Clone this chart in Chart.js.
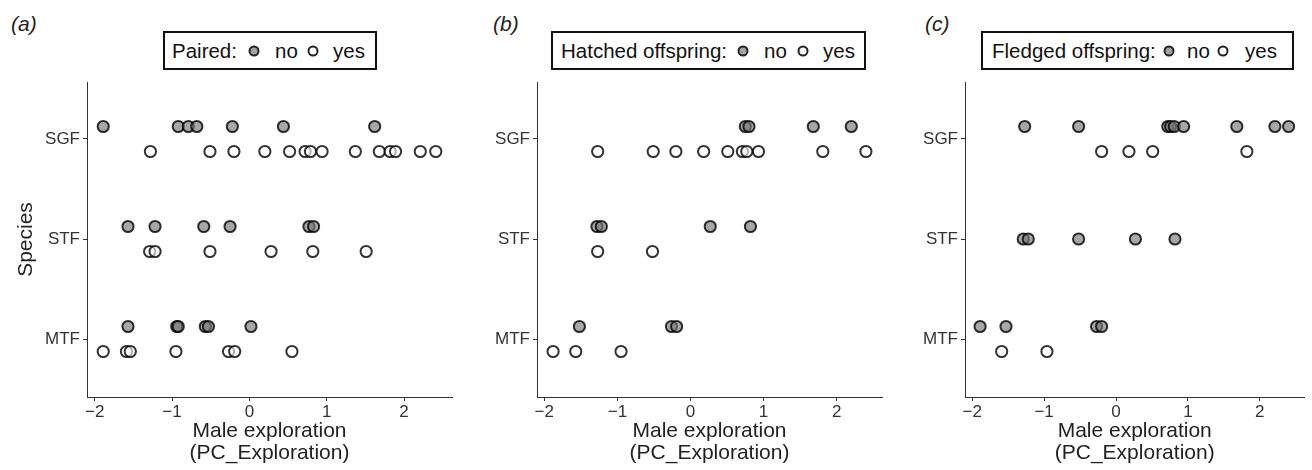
<!DOCTYPE html>
<html>
<head>
<meta charset="utf-8">
<script src="https://cdn.jsdelivr.net/npm/chart.js@4.4.1/dist/chart.umd.min.js"></script>
<style>
  body { margin: 0; background: #fff; width: 1312px; height: 470px; position: relative; overflow: hidden;
         font-family: "Liberation Sans", Arial, sans-serif; }
  canvas { position: absolute; top: 0; }
  .tag { position: absolute; top: 11px; font-size: 21px; font-style: italic; color: #222; line-height: 1.2; }
  .legend { position: absolute; top: 31px; height: 39px; box-sizing: border-box; border: 2px solid #111;
            font-size: 20.5px; color: #111; }
  .legend span { position: absolute; top: 50%; transform: translateY(-50%); white-space: nowrap; }
  .legend span.dot { width: 11px; height: 11px; border-radius: 50%; border: 2px solid #222; box-sizing: border-box;
                     transform: translate(-50%, -50%); }
</style>
</head>
<body>
<div class="tag" style="left:11px">(a)</div>
<div class="tag" style="left:493px">(b)</div>
<div class="tag" style="left:925px">(c)</div>

<div class="legend" style="left:163px;width:214px">
  <span style="left:7px">Paired:</span>
  <span class="dot" style="left:89px;background:#a3a3a3"></span>
  <span style="left:110px">no</span>
  <span class="dot" style="left:148px;background:#fff"></span>
  <span style="left:168px">yes</span>
</div>
<div class="legend" style="left:551px;width:315px">
  <span style="left:8px">Hatched offspring:</span>
  <span class="dot" style="left:190px;background:#a3a3a3"></span>
  <span style="left:211px">no</span>
  <span class="dot" style="left:250px;background:#fff"></span>
  <span style="left:270px">yes</span>
</div>
<div class="legend" style="left:981px;width:313px">
  <span style="left:9px">Fledged offspring:</span>
  <span class="dot" style="left:186px;background:#a3a3a3"></span>
  <span style="left:204px">no</span>
  <span class="dot" style="left:240px;background:#fff"></span>
  <span style="left:262px">yes</span>
</div>

<canvas id="panelA" width="460" height="470" style="left:0px"></canvas>
<canvas id="panelB" width="420" height="470" style="left:470px"></canvas>
<canvas id="panelC" width="412" height="470" style="left:900px"></canvas>

<script>
const species = ['MTF', 'STF', 'SGF'];
const xTicks = [-2, -1, 0, 1, 2];

// (a) Paired
const pairedNoSGF  = [-1.89, -0.92, -0.79, -0.68, -0.22, 0.44, 1.62];
const pairedYesSGF = [-1.28, -0.51, -0.20, 0.20, 0.52, 0.72, 0.79, 0.94, 1.37, 1.68, 1.82, 1.89, 2.21, 2.41];
const pairedNoSTF  = [-1.57, -1.22, -0.59, -0.25, 0.77, 0.83];
const pairedYesSTF = [-1.29, -1.22, -0.51, 0.28, 0.82, 1.51];
const pairedNoMTF  = [-1.57, -0.94, -0.92, -0.57, -0.53, 0.02];
const pairedYesMTF = [-1.89, -1.59, -1.54, -0.95, -0.27, -0.19, 0.55];

// (b) Hatched offspring
const hatchedNoSGF  = [0.75, 0.80, 1.68, 2.20];
const hatchedYesSGF = [-1.27, -0.51, -0.20, 0.18, 0.51, 0.71, 0.77, 0.93, 1.81, 2.40];
const hatchedNoSTF  = [-1.28, -1.22, 0.27, 0.82];
const hatchedYesSTF = [-1.27, -0.52];
const hatchedNoMTF  = [-1.52, -0.26, -0.19];
const hatchedYesMTF = [-1.88, -1.57, -0.95];

// (c) Fledged offspring
const fledgedNoSGF  = [-1.27, -0.52, 0.72, 0.76, 0.81, 0.94, 1.68, 2.21, 2.40];
const fledgedYesSGF = [-0.20, 0.18, 0.51, 1.82];
const fledgedNoSTF  = [-1.29, -1.22, -0.52, 0.27, 0.82];
const fledgedYesSTF = [];
const fledgedNoMTF  = [-1.89, -1.53, -0.27, -0.20];
const fledgedYesMTF = [-1.59, -0.96];

const DODGE = 0.125;
const FONT = '"Liberation Sans", Arial, sans-serif';

// rows: [MTF, STF, SGF], each {no, yes}
function buildPoints(rows, group) {
    const pts = [];
    rows.forEach((row, i) => {
        const both = row.no.length && row.yes.length;
        const off = both ? (group === 'no' ? DODGE : -DODGE) : 0;
        row[group].forEach(x => pts.push({x: x, y: i + 1 + off}));
    });
    return pts;
}

function makePanel(id, rows, yAxisWidth, padRight, showYTitle) {
    return new Chart(document.getElementById(id), {
        type: 'scatter',
        data: {
            datasets: [
                {
                    data: buildPoints(rows, 'no'),
                    pointRadius: 5.6,
                    pointBorderWidth: 2,
                    pointBackgroundColor: 'rgba(120,120,120,0.65)',
                    pointBorderColor: 'rgba(0,0,0,0.8)'
                },
                {
                    data: buildPoints(rows, 'yes'),
                    pointRadius: 5.6,
                    pointBorderWidth: 2,
                    pointBackgroundColor: 'rgba(255,255,255,0.6)',
                    pointBorderColor: 'rgba(0,0,0,0.8)'
                }
            ]
        },
        options: {
            responsive: false,
            animation: false,
            events: [],
            layout: {padding: {top: 82, right: padRight, left: 0, bottom: 0}},
            plugins: {legend: {display: false}, tooltip: {enabled: false}},
            scales: {
                x: {
                    type: 'linear',
                    min: -2.1,
                    max: 2.62,
                    afterBuildTicks: s => { s.ticks = xTicks.map(v => ({value: v})); },
                    afterFit: s => { s.height = 73; },
                    ticks: {
                        font: {family: FONT, size: 17},
                        color: '#333',
                        padding: 1,
                        callback: v => String(v).replace('-', '\u2212')
                    },
                    grid: {drawOnChartArea: false, tickLength: 4, tickColor: '#333', tickWidth: 1},
                    border: {display: true, color: '#333', width: 1},
                    title: {
                        display: true,
                        text: ['Male exploration', '(PC_Exploration)'],
                        font: {family: FONT, size: 21, lineHeight: 1.05},
                        color: '#222',
                        padding: {top: 0, bottom: 6}
                    }
                },
                y: {
                    type: 'linear',
                    min: 0.42,
                    max: 3.57,
                    afterBuildTicks: s => { s.ticks = species.map((n, i) => ({value: i + 1})); },
                    afterFit: s => { s.width = yAxisWidth; },
                    ticks: {
                        font: {family: FONT, size: 17},
                        color: '#333',
                        padding: 3,
                        callback: v => species[v - 1]
                    },
                    grid: {drawOnChartArea: false, tickLength: 4, tickColor: '#333', tickWidth: 1},
                    border: {display: true, color: '#333', width: 1},
                    title: {
                        display: showYTitle,
                        text: 'Species',
                        font: {family: FONT, size: 21, lineHeight: 1.05},
                        color: '#222',
                        padding: {top: 15, bottom: 0}
                    }
                }
            }
        }
    });
}

makePanel('panelA', [
    {no: pairedNoMTF, yes: pairedYesMTF},
    {no: pairedNoSTF, yes: pairedYesSTF},
    {no: pairedNoSGF, yes: pairedYesSGF}
], 87, 8, true);

makePanel('panelB', [
    {no: hatchedNoMTF, yes: hatchedYesMTF},
    {no: hatchedNoSTF, yes: hatchedYesSTF},
    {no: hatchedNoSGF, yes: hatchedYesSGF}
], 67, 8, false);

makePanel('panelC', [
    {no: fledgedNoMTF, yes: fledgedYesMTF},
    {no: fledgedNoSTF, yes: fledgedYesSTF},
    {no: fledgedNoSGF, yes: fledgedYesSGF}
], 65, 2, false);
</script>
</body>
</html>
